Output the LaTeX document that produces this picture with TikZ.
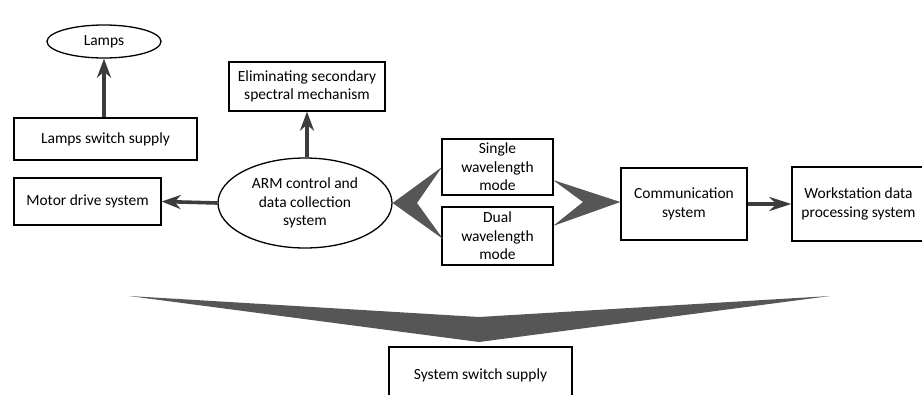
\documentclass[tikz,border=0pt]{standalone}
\usepackage{fontspec}
\setmainfont{Carlito}
\usetikzlibrary{arrows.meta,shapes.geometric}
\definecolor{arr}{HTML}{3C3C3C}
\definecolor{chev}{HTML}{565656}
\begin{document}
\begin{tikzpicture}[x=1pt,y=-1pt,
  txt/.style={font=\fontsize{15.5}{18.6}\selectfont, align=center, inner sep=0pt},
  box/.style={txt, draw=black, line width=1.3pt, rectangle},
  oval/.style={txt, draw=black, line width=1.3pt, ellipse},
  fat/.style={draw=arr, line width=3.6pt, -{Stealth[length=19pt,width=14pt,inset=6pt]}},
  chevfill/.style={fill=chev, draw=none}]
\useasboundingbox (0,0) rectangle (922,394);
\fill[white] (0,0) rectangle (922,394);
\node[oval, minimum width=114pt, minimum height=33pt] (lamps) at (104,41.5) {Lamps};
\node[box, minimum width=183pt, minimum height=42pt] (lss) at (105.5,139) {Lamps switch supply};
\node[box, minimum width=147pt, minimum height=47pt] (motor) at (87.5,201.5) {Motor drive system};
\node[box, minimum width=156pt, minimum height=49pt] (elim) at (307,86.5) {Eliminating secondary\\spectral mechanism};
\node[oval, minimum width=174pt, minimum height=90pt] (arm) at (305,203) {ARM control and\\data collection\\system};
\node[box, minimum width=111pt, minimum height=56pt] (single) at (497.5,167) {Single\\wavelength\\mode};
\node[box, minimum width=111pt, minimum height=58pt] (dual) at (497.5,236) {Dual\\wavelength\\mode};
\node[box, minimum width=126pt, minimum height=72pt] (comm) at (684,204) {Communication\\system};
\node[box, minimum width=133pt, minimum height=74pt] (work) at (858.5,204) {Workstation data\\processing system};
\node[box, minimum width=183pt, minimum height=54pt, text depth=0pt] (sys) at (480.5,374) {System switch supply};
% fat arrows
\draw[fat] (lss.north -| lamps.south) -- (lamps.south);
\draw[fat] (arm.north -| elim.south) -- (elim.south);
\draw[fat] (arm.west) -- (motor.east);
\draw[fat, -{Stealth[length=22pt,width=14pt,inset=7pt]}] (comm.east) -- (work.west);
% left chevron
\coordinate (lc1) at (442,167);
\coordinate (lc2) at (417,203);
\coordinate (lc3) at (443,239);
\fill[chevfill] (arm.east) -- (lc1) -- (lc2) -- (lc3) -- cycle;
% right chevron
\coordinate (rc1) at (553,180);
\coordinate (rc2) at (583,202);
\coordinate (rc3) at (553,226);
\fill[chevfill] (rc1) -- (comm.west |- rc2) -- (rc3) -- (rc2) -- cycle;
% big chevron
\coordinate (bc1) at (129,296);
\coordinate (bc2) at (479,317);
\coordinate (bc3) at (830,296);
\coordinate (bc4) at (479,342);
\fill[chevfill] (bc1) -- (bc2) -- (bc3) -- (bc4) -- cycle;
\end{tikzpicture}
\end{document}
